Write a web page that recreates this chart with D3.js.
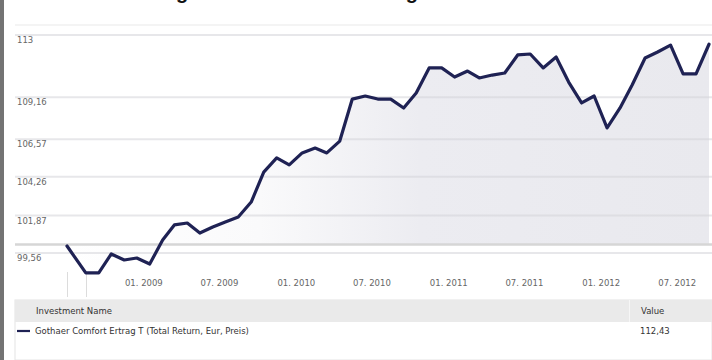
<!DOCTYPE html>
<html>
<head>
<meta charset="utf-8">
<script src="https://cdn.jsdelivr.net/npm/d3@7"></script>
<style>
  html, body { margin: 0; padding: 0; background: #fff; overflow: hidden; }
  svg { display: block; }
  text { font-family: "DejaVu Sans", Verdana, sans-serif; }
</style>
</head>
<body>
<svg id="chart" width="712" height="360"></svg>
<script>
// ---------- data ----------
const titleText = "Wertentwicklung Gothaer Comfort Ertrag";
const seriesName = "Gothaer Comfort Ertrag T (Total Return, Eur, Preis)";
const dates = [
  "2008-07-01","2008-08-15","2008-09-15","2008-10-15","2008-11-15","2008-12-15",
  "2009-01-15","2009-02-15","2009-03-15","2009-04-15","2009-05-15","2009-06-15",
  "2009-07-15","2009-08-15","2009-09-15","2009-10-15","2009-11-15","2009-12-15",
  "2010-01-15","2010-02-15","2010-03-15","2010-04-15","2010-05-15","2010-06-15",
  "2010-07-15","2010-08-15","2010-09-15","2010-10-15","2010-11-15","2010-12-15",
  "2011-01-15","2011-02-15","2011-03-15","2011-04-15","2011-05-15","2011-06-15",
  "2011-07-15","2011-08-15","2011-09-15","2011-10-15","2011-11-15","2011-12-15",
  "2012-01-15","2012-02-15","2012-03-15","2012-04-15","2012-05-15","2012-06-15",
  "2012-07-15","2012-08-15","2012-09-15"
];
const values = [
  99.99, 98.33, 98.33, 99.50, 99.13, 99.25, 98.88, 100.36, 101.29, 101.41,
  100.79, 101.16, 101.47, 101.78, 102.70, 104.55, 105.42, 104.99, 105.73, 106.03,
  105.73, 106.46, 109.05, 109.24, 109.05, 109.05, 108.50, 109.42, 110.97, 110.97,
  110.41, 110.78, 110.35, 110.53, 110.66, 111.77, 111.83, 110.97, 111.64, 110.10,
  108.81, 109.24, 107.27, 108.50, 109.92, 111.58, 111.95, 112.38, 110.60, 110.60,
  112.43
];
const yTickValues = [113, 109.16, 106.57, 104.26, 101.87, 99.56];
const yTickLabels = ["113", "109,16", "106,57", "104,26", "101,87", "99,56"];
const xTickDates = ["2009-01-01","2009-07-01","2010-01-01","2010-07-01","2011-01-01","2011-07-01","2012-01-01","2012-07-01"];
const xTickLabels = ["01. 2009","07. 2009","01. 2010","07. 2010","01. 2011","07. 2011","01. 2012","07. 2012"];
const tableHeaders = ["Investment Name", "Value"];
const lastValueLabel = "112,43";

// ---------- layout ----------
const W = 712, H = 360;
const plotLeft = 15, plotRight = 712;
const lineLeft = 67, lineRight = 709;
const yTop = 35, yBottom = 253;
const fillBase = 244;
const lineColor = "#1f2254";

const parse = d3.timeParse("%Y-%m-%d");
const data = dates.map((d, i) => ({ date: parse(d), value: values[i] }));

const svg = d3.select("#chart");

const x = d3.scaleTime()
  .domain(d3.extent(data, d => d.date))
  .range([lineLeft, lineRight]);
const y = d3.scaleLinear()
  .domain([yTickValues[yTickValues.length - 1], yTickValues[0]])
  .range([yBottom, yTop]);

// left border bar
svg.append("rect").attr("x", 0).attr("y", 0).attr("width", 4).attr("height", H).attr("fill", "#737373");

// partially visible title (cut off at the top, as in the source)
const title = svg.append("text")
  .attr("x", 0).attr("y", -1.5)
  .style("font-family", "'Liberation Sans', Arial, sans-serif")
  .style("font-weight", "bold")
  .style("font-size", "20px")
  .attr("fill", "#111")
  .text(titleText);
(function placeTitle() {
  const n = title.node();
  const i1 = titleText.indexOf("g"), i2 = titleText.lastIndexOf("g");
  const c = i => n.getStartPositionOfChar(i).x + n.getExtentOfChar(i).width / 2;
  const s = (412 - 182) / (c(i2) - c(i1));
  title.style("font-size", (20 * s) + "px");
  title.attr("x", 182 - c(i1));
})();

// faint top border of plot
svg.append("line").attr("x1", plotLeft).attr("x2", plotRight).attr("y1", 25).attr("y2", 25)
  .attr("stroke", "#f1f1f1").attr("stroke-width", 1.5);

// gradient for area fill
const defs = svg.append("defs");
const grad = defs.append("linearGradient").attr("id", "fillGrad")
  .attr("gradientUnits", "userSpaceOnUse")
  .attr("x1", lineLeft).attr("x2", lineRight).attr("y1", 0).attr("y2", 0);
grad.append("stop").attr("offset", "0%").attr("stop-color", "#ffffff");
grad.append("stop").attr("offset", "30%").attr("stop-color", "#fafafb");
grad.append("stop").attr("offset", "55%").attr("stop-color", "#ececf1");
grad.append("stop").attr("offset", "100%").attr("stop-color", "#e9e9ee");

// area
const area = d3.area()
  .x(d => x(d.date))
  .y0(fillBase)
  .y1(d => y(d.value));
svg.append("path").datum(data).attr("d", area).attr("fill", "url(#fillGrad)");

// gridlines
svg.append("g").selectAll("line").data(yTickValues).join("line")
  .attr("x1", plotLeft).attr("x2", plotRight)
  .attr("y1", d => y(d)).attr("y2", d => y(d))
  .attr("stroke", "#d4d4d8").attr("stroke-opacity", 0.55).attr("stroke-width", 2);

// baseline of fill
svg.append("line").attr("x1", plotLeft).attr("x2", plotRight).attr("y1", fillBase + 0.5).attr("y2", fillBase + 0.5)
  .attr("stroke", "#d6d6d6").attr("stroke-width", 2.5);

// y labels
svg.append("g").selectAll("text").data(yTickValues).join("text")
  .attr("x", 17).attr("y", d => y(d) + 8)
  .attr("font-size", "8.5px").attr("fill", "#666")
  .text((d, i) => yTickLabels[i]);

// small vertical marker lines under the start of the series
svg.append("g").selectAll("line").data(data.slice(0, 2)).join("line")
  .attr("x1", d => Math.round(x(d.date)) + 0.5).attr("x2", d => Math.round(x(d.date)) + 0.5)
  .attr("y1", 272).attr("y2", 297)
  .attr("stroke", "#dcdcdc").attr("stroke-width", 1);

// line
const line = d3.line().x(d => x(d.date)).y(d => y(d.value));
svg.append("path").datum(data).attr("d", line)
  .attr("fill", "none").attr("stroke", lineColor).attr("stroke-width", 3.2)
  .attr("stroke-linejoin", "round").attr("stroke-linecap", "round");

// x labels
const xl = svg.append("g").selectAll("text").data(xTickDates).join("text")
  .attr("y", 286)
  .attr("font-size", "8.5px").attr("fill", "#666")
  .attr("text-anchor", "middle")
  .text((d, i) => xTickLabels[i]);
xl.each(function(d) {
  const w = this.getComputedTextLength();
  const cx = Math.min(x(parse(d)), W - 2 - w / 2);
  d3.select(this).attr("x", cx);
});

// ---------- table / legend ----------
const tTop = 300, tHead = 22;
svg.append("rect").attr("x", plotLeft).attr("y", tTop).attr("width", W - plotLeft).attr("height", H - tTop)
  .attr("fill", "#ffffff").attr("stroke", "#e4e4e4").attr("stroke-width", 1);
svg.append("rect").attr("x", plotLeft).attr("y", tTop).attr("width", W - plotLeft).attr("height", tHead)
  .attr("fill", "#eaeaea");
svg.append("line").attr("x1", 629.5).attr("x2", 629.5).attr("y1", tTop).attr("y2", tTop + tHead)
  .attr("stroke", "#f6f6f6").attr("stroke-width", 1);
svg.append("text").attr("x", 36).attr("y", 314).attr("font-size", "8.5px").attr("fill", "#333").text(tableHeaders[0]);
svg.append("text").attr("x", 641).attr("y", 314).attr("font-size", "8.5px").attr("fill", "#333").text(tableHeaders[1]);

svg.append("line").attr("x1", 17).attr("x2", 30).attr("y1", 331).attr("y2", 331)
  .attr("stroke", lineColor).attr("stroke-width", 2.2);
svg.append("text").attr("x", 35).attr("y", 334).attr("font-size", "8.5px").attr("fill", "#333").text(seriesName);
svg.append("text").attr("x", 640).attr("y", 334).attr("font-size", "8.5px").attr("fill", "#333").text(lastValueLabel);
</script>
</body>
</html>
